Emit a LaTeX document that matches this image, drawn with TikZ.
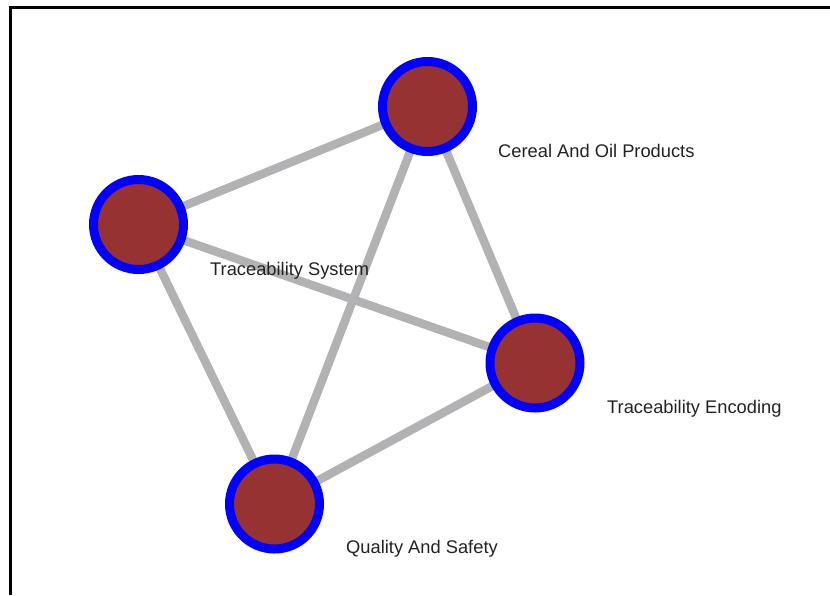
\documentclass[tikz,border=0pt]{standalone}
\usepackage{fontspec}
\setmainfont{Liberation Sans}
\definecolor{nodefill}{RGB}{150,50,50}
\definecolor{ringblue}{RGB}{0,0,255}
\definecolor{edgegray}{RGB}{178,178,180}
\definecolor{labelgray}{RGB}{34,34,34}
\tikzset{
  vert/.style={circle, fill=nodefill, draw=ringblue, line width=9pt, minimum size=90pt, inner sep=0pt},
  edge/.style={draw=edgegray, line width=8.5pt},
  lbl/.style={anchor=base west, inner sep=0pt, text=labelgray, font=\fontsize{18.3pt}{20pt}\selectfont},
  frame/.style={draw=black, line width=3pt}
}
\begin{document}
\begin{tikzpicture}[x=1pt,y=-1pt]
\useasboundingbox (0,0) rectangle (830,595);
\coordinate (fa) at (10.3,595);
\coordinate (fb) at (10.3,7.2);
\coordinate (fc) at (830,7.2);
\draw[frame] (fa) -- (fb) -- (fc);
\coordinate (pC) at (427.5,106.5);
\coordinate (pS) at (138.5,224.5);
\coordinate (pE) at (535,363);
\coordinate (pQ) at (274.5,504);
\draw[edge] (pC) -- (pS);
\draw[edge] (pC) -- (pE);
\draw[edge] (pC) -- (pQ);
\draw[edge] (pS) -- (pE);
\draw[edge] (pS) -- (pQ);
\draw[edge] (pE) -- (pQ);
\node[vert] (C) at (pC) {};
\node[vert] (S) at (pS) {};
\node[vert] (E) at (pE) {};
\node[vert] (Q) at (pQ) {};
\node[lbl] (lC) at (498,157) {Cereal And Oil Products};
\node[lbl] (lS) at (210,275) {Traceability System};
\node[lbl] (lE) at (607,413) {Traceability Encoding};
\node[lbl] (lQ) at (346,553) {Quality And Safety};
\end{tikzpicture}
\end{document}
